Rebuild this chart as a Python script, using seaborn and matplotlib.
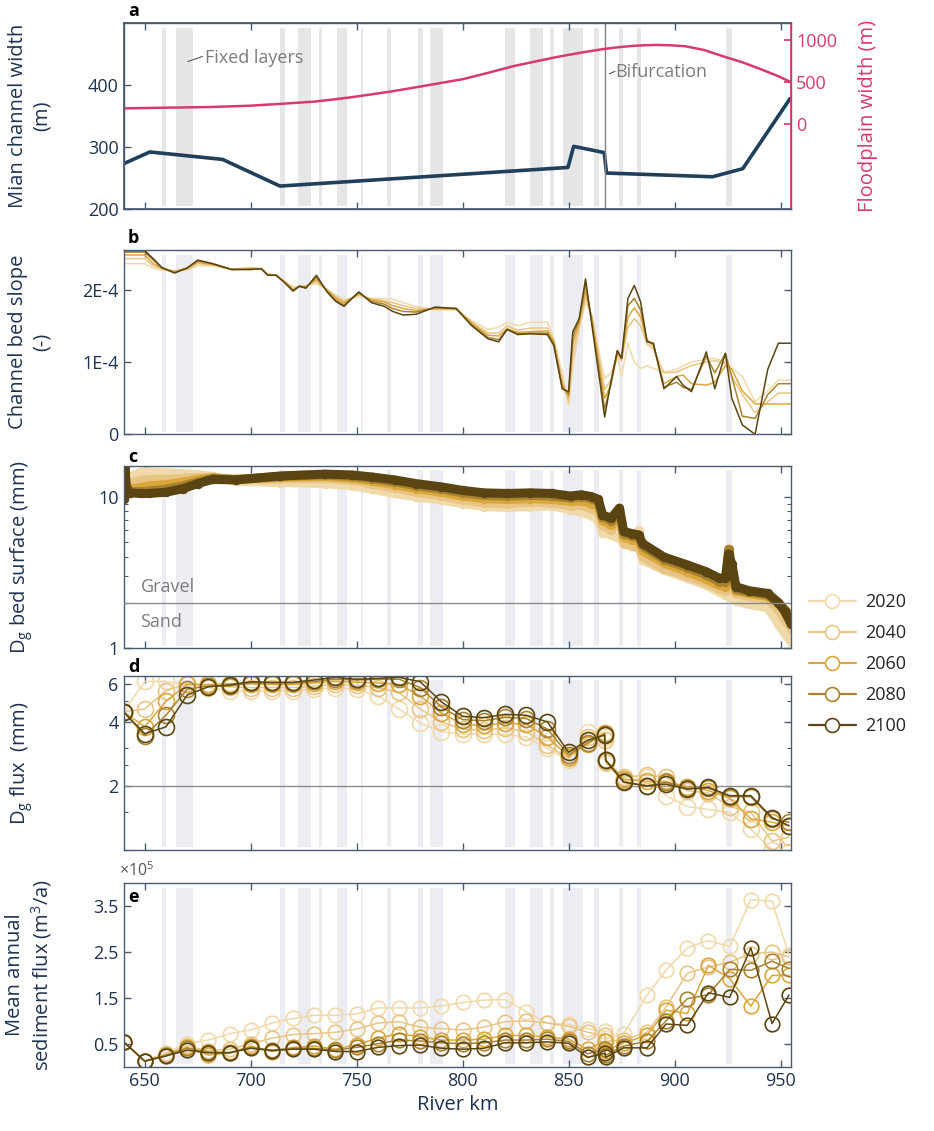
import matplotlib
matplotlib.use("Agg")
import matplotlib.pyplot as plt
from matplotlib.lines import Line2D
import seaborn as sns

# ---------------- data ----------------
years = ["2020", "2040", "2060", "2080", "2100"]
year_colors = ["#f0d9aa", "#e8c585", "#dba73a", "#a8832f", "#5a4512"]

band_start = [658.3, 664.6, 714.0, 722.1, 732.0, 740.9, 752.0, 764.3, 778.9, 784.6,
              819.8, 831.7, 841.3, 847.2, 862.2, 873.7, 882.5, 924.3]
band_end = [660.2, 672.6, 716.1, 728.3, 733.5, 745.4, 752.8, 766.2, 781.3, 790.8,
            824.8, 837.7, 843.3, 856.6, 864.5, 875.5, 884.4, 927.2]

# panel a
width_km = [640, 652.4, 686.7, 713.8, 849.7, 852.4, 866.8, 867.9, 917.9, 932.2, 954.5]
width_m = [273, 292, 280, 237, 267, 301, 291, 258, 252, 265, 378]
flood_km = [640, 660, 681, 700, 715, 730, 740, 747, 756, 765, 773, 781, 790, 800, 812, 824, 835, 845,
            856, 866, 873, 880, 886, 892, 898, 905, 914, 923, 932, 940, 948, 955]
flood_m = [190, 198, 206, 222, 245, 270, 298, 320, 352, 385, 418, 452, 492, 535, 610, 690, 748, 800,
           850, 890, 912, 928, 937, 940, 936, 925, 880, 805, 735, 660, 580, 500]
bifurcation_km = 867

# panel b (channel bed slope, units of 1E-4)
slope_km = [640, 650, 654, 658, 664, 670, 675, 682, 691, 700, 705, 708, 712, 716, 720, 723, 726, 731,
            736, 740, 744, 751, 757, 763, 767, 772, 778, 787, 797, 804, 812, 817, 821, 826, 832, 840,
            843, 847, 850, 852, 855, 858, 861, 865, 867, 870, 873, 875, 878, 881, 884, 887, 890, 895,
            901, 904, 908, 915, 919, 924, 927, 932, 938, 944, 949, 955]
slope_2100 = [2.54, 2.54, 2.43, 2.31, 2.23, 2.30, 2.41, 2.36, 2.28, 2.28, 2.29, 2.20, 2.20, 2.10, 1.98, 2.05,
              2.02, 2.20, 1.97, 1.84, 1.77, 1.97, 1.82, 1.77, 1.70, 1.65, 1.66, 1.76, 1.74, 1.51, 1.32, 1.28,
              1.45, 1.38, 1.39, 1.38, 1.23, 0.63, 0.59, 1.42, 1.60, 2.15, 1.51, 0.68, 0.24, 0.73, 1.16, 1.05,
              1.88, 2.06, 1.83, 1.28, 1.26, 0.63, 0.80, 0.68, 0.59, 1.14, 0.63, 1.12, 0.50, 0.13, 0.00, 0.90,
              1.26, 1.26]
slope_2080 = [2.52, 2.52, 2.41, 2.30, 2.24, 2.30, 2.40, 2.36, 2.28, 2.28, 2.29, 2.20, 2.20, 2.10, 1.99, 2.05,
              2.03, 2.17, 1.98, 1.86, 1.79, 1.96, 1.84, 1.80, 1.74, 1.70, 1.69, 1.75, 1.74, 1.52, 1.34, 1.31,
              1.45, 1.39, 1.40, 1.40, 1.26, 0.65, 0.55, 1.35, 1.58, 2.08, 1.55, 0.75, 0.35, 0.70, 1.15, 1.05,
              1.78, 1.88, 1.72, 1.30, 1.25, 0.65, 0.72, 0.65, 0.62, 1.08, 0.85, 1.12, 0.80, 0.25, 0.22, 0.55,
              0.70, 0.70]
slope_2060 = [2.48, 2.48, 2.36, 2.30, 2.25, 2.30, 2.38, 2.35, 2.28, 2.29, 2.29, 2.21, 2.20, 2.10, 2.00, 2.04,
              2.04, 2.14, 1.99, 1.89, 1.82, 1.94, 1.86, 1.83, 1.78, 1.74, 1.71, 1.74, 1.74, 1.54, 1.37, 1.36,
              1.46, 1.41, 1.42, 1.43, 1.28, 0.70, 0.52, 1.25, 1.55, 1.98, 1.60, 0.85, 0.50, 0.68, 1.12, 1.05,
              1.62, 1.75, 1.62, 1.30, 1.22, 0.70, 0.80, 0.82, 0.70, 0.68, 0.72, 0.95, 0.90, 0.60, 0.42, 0.42,
              0.42, 0.42]
slope_2040 = [2.43, 2.43, 2.33, 2.29, 2.26, 2.28, 2.36, 2.34, 2.28, 2.30, 2.29, 2.22, 2.20, 2.11, 2.02, 2.04,
              2.05, 2.11, 2.00, 1.91, 1.84, 1.93, 1.87, 1.85, 1.82, 1.78, 1.74, 1.73, 1.73, 1.56, 1.40, 1.40,
              1.50, 1.44, 1.47, 1.47, 1.30, 0.75, 0.45, 1.10, 1.50, 1.90, 1.62, 0.95, 0.62, 0.75, 1.10, 1.02,
              1.48, 1.60, 1.50, 1.25, 1.18, 0.85, 0.86, 0.90, 0.95, 1.00, 1.02, 0.98, 0.80, 0.55, 0.30, 0.45,
              0.57, 0.57]
slope_2020 = [2.36, 2.36, 2.30, 2.27, 2.26, 2.27, 2.33, 2.33, 2.28, 2.31, 2.29, 2.22, 2.20, 2.12, 2.04, 2.04,
              2.06, 2.08, 2.01, 1.93, 1.86, 1.90, 1.88, 1.88, 1.87, 1.82, 1.77, 1.72, 1.72, 1.58, 1.45, 1.48,
              1.55, 1.50, 1.55, 1.55, 1.33, 0.85, 0.40, 0.95, 1.45, 1.83, 1.65, 1.05, 0.77, 0.85, 1.08, 0.80,
              1.26, 1.00, 0.91, 0.95, 0.91, 0.86, 0.90, 0.95, 1.00, 1.04, 1.05, 1.00, 0.92, 0.80, 0.45, 0.60,
              0.75, 0.75]

# panel c (Dg bed surface, mm)
surf_km = [640, 640.6, 641.3, 643, 648, 652, 660, 668, 675, 682, 693, 714, 735, 748, 757, 768, 778, 790,
           800, 810, 821, 832, 842, 851, 856, 861, 864, 866, 870, 874, 876, 880, 883, 885, 895, 906, 915,
           921, 924, 925.5, 927, 929, 935, 944, 949, 952, 955]
surf_2100 = [9.7, 16.0, 11.5, 10.6, 10.5, 10.5, 10.7, 11.3, 12.2, 13.0, 12.9, 13.7, 14.1, 13.9, 13.5, 12.9,
             12.2, 11.6, 11.0, 10.6, 10.5, 10.6, 10.5, 10.1, 10.3, 10.0, 9.6, 7.6, 7.2, 8.4, 5.9, 5.7, 5.6,
             4.9, 4.0, 3.55, 3.2, 2.9, 2.9, 4.2, 3.6, 2.55, 2.4, 2.3, 2.0, 1.75, 1.45]
surf_2080 = [9.9, 14.5, 11.8, 10.8, 10.8, 10.9, 11.2, 11.8, 12.5, 13.2, 13.0, 13.6, 13.9, 13.6, 13.1, 12.5,
             11.8, 11.2, 10.6, 10.2, 10.1, 10.2, 10.1, 9.8, 10.0, 9.7, 9.3, 7.4, 6.9, 8.1, 5.7, 5.5, 5.4,
             4.7, 3.85, 3.4, 3.05, 2.75, 2.75, 4.5, 3.4, 2.45, 2.35, 2.25, 2.0, 1.8, 1.55]
surf_2060 = [10.0, 12.0, 11.5, 11.2, 11.5, 11.8, 12.0, 12.5, 13.0, 13.3, 13.0, 13.4, 13.6, 13.2, 12.7, 12.0,
             11.3, 10.7, 10.1, 9.7, 9.6, 9.7, 9.6, 9.3, 9.4, 9.0, 8.7, 7.0, 6.5, 7.6, 5.4, 5.2, 5.1,
             4.4, 3.65, 3.2, 2.85, 2.6, 2.55, 3.8, 3.0, 2.4, 2.3, 2.2, 2.0, 1.8, 1.6]
surf_2040 = [10.3, 10.8, 11.5, 12.3, 12.8, 13.0, 13.0, 13.2, 13.4, 13.4, 12.9, 13.1, 13.2, 12.8, 12.2, 11.4,
             10.7, 10.1, 9.5, 9.1, 9.0, 9.2, 9.1, 8.7, 8.8, 8.3, 8.0, 6.5, 6.0, 7.0, 4.9, 4.7, 4.6,
             4.0, 3.35, 3.0, 2.7, 2.45, 2.4, 2.7, 2.5, 2.3, 2.2, 2.1, 1.8, 1.55, 1.35]
surf_2020 = [10.5, 11.0, 12.0, 13.5, 14.5, 14.6, 14.4, 14.2, 14.0, 13.6, 12.6, 12.4, 12.2, 11.8, 11.2, 10.5,
             10.0, 9.5, 9.0, 8.6, 8.5, 8.6, 8.7, 8.2, 7.9, 7.5, 7.0, 5.8, 5.6, 5.3, 5.2, 4.8, 6.0,
             3.8, 3.28, 2.9, 2.6, 2.35, 2.25, 2.2, 2.14, 2.05, 1.95, 1.85, 1.45, 1.25, 1.1]

# panels d and e share the output locations
out_km = [640, 650, 660, 670, 680, 690, 700, 710, 720, 730, 740, 750, 760, 770, 780, 790, 800, 810,
          820, 830, 840, 850, 859, 867, 867.5, 876, 887, 896, 906, 916, 926, 936, 946, 954]
flux_2100 = [4.46, 3.52, 3.79, 5.35, 5.85, 5.97, 6.18, 6.14, 6.14, 6.30, 6.48, 6.34, 6.41, 6.48, 6.18, 4.97,
             4.25, 4.19, 4.34, 4.30, 4.00, 2.88, 3.28, 3.47, 2.64, 2.08, 2.00, 2.04, 1.93, 1.97, 1.80, 1.80,
             1.42, 1.30]
flux_2080 = [4.46, 3.45, 4.30, 5.70, 5.90, 5.90, 6.10, 6.10, 6.10, 6.20, 6.35, 6.30, 6.35, 6.35, 5.80, 4.70,
             4.10, 4.05, 4.20, 4.15, 3.70, 2.80, 3.20, 3.50, 2.65, 2.10, 2.00, 2.08, 1.95, 1.95, 1.78, 1.78,
             1.40, 1.35]
flux_2060 = [4.46, 3.80, 5.00, 6.00, 6.00, 6.05, 6.05, 6.00, 6.00, 6.10, 6.20, 6.15, 6.10, 6.00, 5.30, 4.40,
             3.90, 3.85, 3.95, 3.90, 3.40, 2.75, 3.15, 3.55, 2.65, 2.15, 2.10, 2.10, 1.98, 1.90, 1.75, 1.40,
             1.35, 1.30]
flux_2040 = [4.46, 4.60, 5.60, 6.05, 5.90, 5.85, 5.80, 5.80, 5.80, 5.90, 6.00, 5.95, 5.80, 5.50, 4.60, 4.00,
             3.70, 3.65, 3.75, 3.60, 3.10, 2.70, 3.40, 3.30, 2.60, 2.20, 2.25, 2.20, 1.90, 1.85, 1.60, 1.50,
             1.10, 1.15]
flux_2020 = [4.46, 6.20, 6.20, 6.00, 5.80, 5.60, 5.60, 5.60, 5.60, 5.70, 5.80, 5.70, 5.30, 4.60, 3.95, 3.60,
             3.50, 3.50, 3.50, 3.40, 3.00, 2.65, 3.60, 3.40, 2.55, 2.10, 2.20, 1.80, 1.60, 1.55, 1.50, 1.25,
             1.00, 0.98]

# panel e (units of 1e5 m3/a)
sed_2100 = [0.54, 0.12, 0.23, 0.36, 0.30, 0.30, 0.40, 0.35, 0.38, 0.38, 0.33, 0.33, 0.42, 0.46, 0.47, 0.40,
            0.38, 0.40, 0.52, 0.52, 0.54, 0.51, 0.20, 0.29, 0.20, 0.41, 0.41, 0.93, 0.90, 1.61, 1.51, 2.59,
            0.94, 1.56]
sed_2080 = [0.54, 0.12, 0.25, 0.40, 0.32, 0.31, 0.42, 0.36, 0.40, 0.40, 0.36, 0.42, 0.50, 0.58, 0.56, 0.52,
            0.50, 0.52, 0.58, 0.58, 0.60, 0.55, 0.28, 0.38, 0.25, 0.45, 0.55, 1.00, 1.48, 1.57, 2.12, 2.10,
            2.30, 2.14]
sed_2060 = [0.54, 0.12, 0.25, 0.42, 0.25, 0.30, 0.45, 0.33, 0.42, 0.45, 0.38, 0.48, 0.62, 0.72, 0.65, 0.58,
            0.58, 0.60, 0.68, 0.68, 0.65, 0.60, 0.38, 0.55, 0.35, 0.52, 0.68, 1.23, 1.16, 2.21, 1.92, 1.32,
            1.99, 1.99]
sed_2040 = [0.54, 0.12, 0.28, 0.45, 0.35, 0.38, 0.50, 0.62, 0.70, 0.72, 0.75, 0.82, 0.95, 0.98, 0.86, 0.83,
            0.80, 0.86, 0.98, 1.00, 0.95, 0.88, 0.75, 0.68, 0.55, 0.58, 0.75, 1.30, 2.04, 2.17, 2.28, 2.46,
            2.50, 2.39]
sed_2020 = [0.54, 0.12, 0.30, 0.50, 0.58, 0.72, 0.80, 0.95, 1.05, 1.12, 1.12, 1.15, 1.28, 1.28, 1.28, 1.32,
            1.40, 1.45, 1.46, 1.20, 0.95, 0.92, 0.82, 0.78, 0.62, 0.72, 1.56, 2.10, 2.59, 2.75, 2.62, 3.64,
            3.61, 2.43]

slope = [slope_2020, slope_2040, slope_2060, slope_2080, slope_2100]
surf = [surf_2020, surf_2040, surf_2060, surf_2080, surf_2100]
flux = [flux_2020, flux_2040, flux_2060, flux_2080, flux_2100]
sed = [sed_2020, sed_2040, sed_2060, sed_2080, sed_2100]

# ---------------- style ----------------
sns.set_theme(style="ticks")
plt.rcParams['font.family'] = ['Open Sans', 'DejaVu Sans']
plt.rcParams['mathtext.default'] = 'regular'
navy = "#1f3350"
spine_c = "#4a5a70"
pink = "#d63a6e"
gray_txt = "#7c7c7c"

fig = plt.figure(figsize=(9.34, 11.31), dpi=100)
L, W = 0.1323, 0.7147
axa = fig.add_axes([L, 0.8152, W, 0.1645])
axb = fig.add_axes([L, 0.6160, W, 0.1630])
axc = fig.add_axes([L, 0.4268, W, 0.1614])
axd = fig.add_axes([L, 0.2485, W, 0.1541])
axe = fig.add_axes([L, 0.0569, W, 0.1622])
axes = [axa, axb, axc, axd, axe]

xt = [650, 700, 750, 800, 850, 900, 950]
for i, ax in enumerate(axes):
    bc = "#e6e6e6" if i == 0 else "#ececf3"
    for s, e in zip(band_start, band_end):
        ax.axvspan(s, e, ymin=0.015, ymax=0.975, color=bc, lw=0, zorder=0)
    ax.set_xlim(640, 955)
    ax.set_xticks(xt)
    ax.tick_params(axis='both', direction='in', length=5, width=1, colors=spine_c,
                   labelcolor=navy, labelsize=13, top=True, right=(i != 0))
    ax.tick_params(axis='y', which='minor', direction='in', length=3, width=0.8,
                   colors=spine_c, right=(i != 0))
    for sp in ax.spines.values():
        sp.set_color(spine_c)
        sp.set_linewidth(1)
    if i < 4:
        ax.set_xticklabels([])
    ax.set_xlabel("")

# ---- panel a ----
sns.lineplot(x=width_km, y=width_m, ax=axa, color="#1f3f5a", lw=2.6)
axa.axvline(bifurcation_km, color="#808080", lw=1)
axa.set_ylim(200, 500)
axa.set_yticks([200, 300, 400])
axa.set_ylabel("Mian channel width\n(m)", color=navy, fontsize=14.5)
axa.yaxis.set_label_coords(-0.108, 0.5)
axa2 = axa.twinx()
sns.lineplot(x=flood_km, y=flood_m, ax=axa2, color=pink, lw=1.8)
axa2.set_ylim(-1000, 1200)
axa2.set_yticks([0, 500, 1000])
axa2.tick_params(axis='y', direction='in', length=5, colors=pink, labelcolor=pink, labelsize=13)
for k, sp in axa2.spines.items():
    sp.set_color(pink if k == 'right' else spine_c)
axa2.set_ylabel("Floodplain width (m)", color=pink, fontsize=14.5)
axa2.yaxis.set_label_coords(1.1, 0.5)
axa.plot([670.3, 677.2], [437.8, 445.9], color="#555555", lw=0.8)
axa.text(678.2, 443, "Fixed layers", color=gray_txt, fontsize=13, va='center', ha='left')
axa.plot([869.2, 871.9], [418, 422], color="#555555", lw=0.8)
axa.text(872.2, 421, "Bifurcation", color=gray_txt, fontsize=13, va='center', ha='left')

# ---- panel b ----
for vals, c in zip(slope, year_colors):
    sns.lineplot(x=slope_km, y=vals, ax=axb, color=c, lw=1.1)
axb.set_ylim(0, 2.55)
axb.set_yticks([0, 1, 2])
axb.set_yticklabels(["0", "1E-4", "2E-4"])
axb.set_ylabel("Channel bed slope\n(-)", color=navy, fontsize=14.5)
axb.yaxis.set_label_coords(-0.108, 0.5)

# ---- panel c ----
for vals, c in zip(surf, year_colors):
    sns.lineplot(x=surf_km, y=vals, ax=axc, color=c, lw=6.5, solid_capstyle='round',
                 solid_joinstyle='round', marker='o', markersize=5.5, markerfacecolor='none',
                 markeredgecolor=c, markeredgewidth=1.3)
axc.set_yscale('log')
axc.set_ylim(1, 16)
axc.set_yticks([1, 10])
axc.set_yticklabels(["1", "10"])
axc.set_yticks([2, 3, 4, 5, 6, 7, 8, 9], minor=True)
axc.set_yticklabels([], minor=True)
axc.axhline(2, color="#8a8a8a", lw=1, zorder=5)
axc.text(648, 2.55, "Gravel", color=gray_txt, fontsize=13, va='center', ha='left')
axc.text(648, 1.5, "Sand", color=gray_txt, fontsize=13, va='center', ha='left')
axc.set_ylabel("D$_g$ bed surface (mm)", color=navy, fontsize=14.5)
axc.yaxis.set_label_coords(-0.132, 0.5)

# ---- panel d ----
for vals, c in zip(flux, year_colors):
    sns.lineplot(x=out_km, y=vals, ax=axd, color=c, lw=1.1, marker='o', markersize=11.5,
                 markerfacecolor='none', markeredgecolor=c, markeredgewidth=1.2)
axd.set_yscale('log')
axd.set_ylim(1, 6.6)
axd.set_yticks([2, 4, 6])
axd.set_yticklabels(["2", "4", "6"])
axd.set_yticks([1, 1.5, 2.5, 3, 5], minor=True)
axd.set_yticklabels([], minor=True)
axd.axhline(2, color="#8a8a8a", lw=1, zorder=1)
axd.set_ylabel("D$_g$ flux  (mm)", color=navy, fontsize=14.5)
axd.yaxis.set_label_coords(-0.132, 0.5)

# ---- panel e ----
for vals, c in zip(sed, year_colors):
    sns.lineplot(x=out_km, y=vals, ax=axe, color=c, lw=1.1, marker='o', markersize=10.5,
                 markerfacecolor='none', markeredgecolor=c, markeredgewidth=1.2)
axe.set_ylim(0, 4)
axe.set_yticks([0.5, 1.5, 2.5, 3.5])
axe.set_yticklabels(["0.5", "1.5", "2.5", "3.5"])
axe.set_xticklabels([str(v) for v in xt])
axe.set_xlabel("River km", color=navy, fontsize=14.5)
axe.set_ylabel("Mean annual\nsediment flux (m$^3$/a)", color=navy, fontsize=14.5)
axe.yaxis.set_label_coords(-0.104, 0.5)
fig.text(0.127, 0.2305, r"$\times$10$^5$", color="#555555", fontsize=11.5, va='center', ha='left')

# panel letters
for lab, y in zip("abcd", [0.9905, 0.7896, 0.5960, 0.4103]):
    fig.text(0.137, y, lab, fontsize=13, fontweight='bold', va='center', ha='left', color='black')
fig.text(0.137, 0.2069, "e", fontsize=13, fontweight='bold', va='center', ha='left', color='black')

for ax in axes:
    if ax.get_legend() is not None:
        ax.get_legend().remove()

# legend
handles = [Line2D([0], [0], color=c, lw=1.6, marker='o', markersize=10,
                  markerfacecolor='white', markeredgecolor=c, markeredgewidth=1.2) for c in year_colors]
fig.legend(handles, years, loc='center left', bbox_to_anchor=(0.862, 0.413), frameon=False,
           fontsize=13, handlelength=2.6, labelspacing=0.72, handletextpad=0.5, borderaxespad=0,
           borderpad=0.2)

fig.savefig("out.png", dpi=100)
